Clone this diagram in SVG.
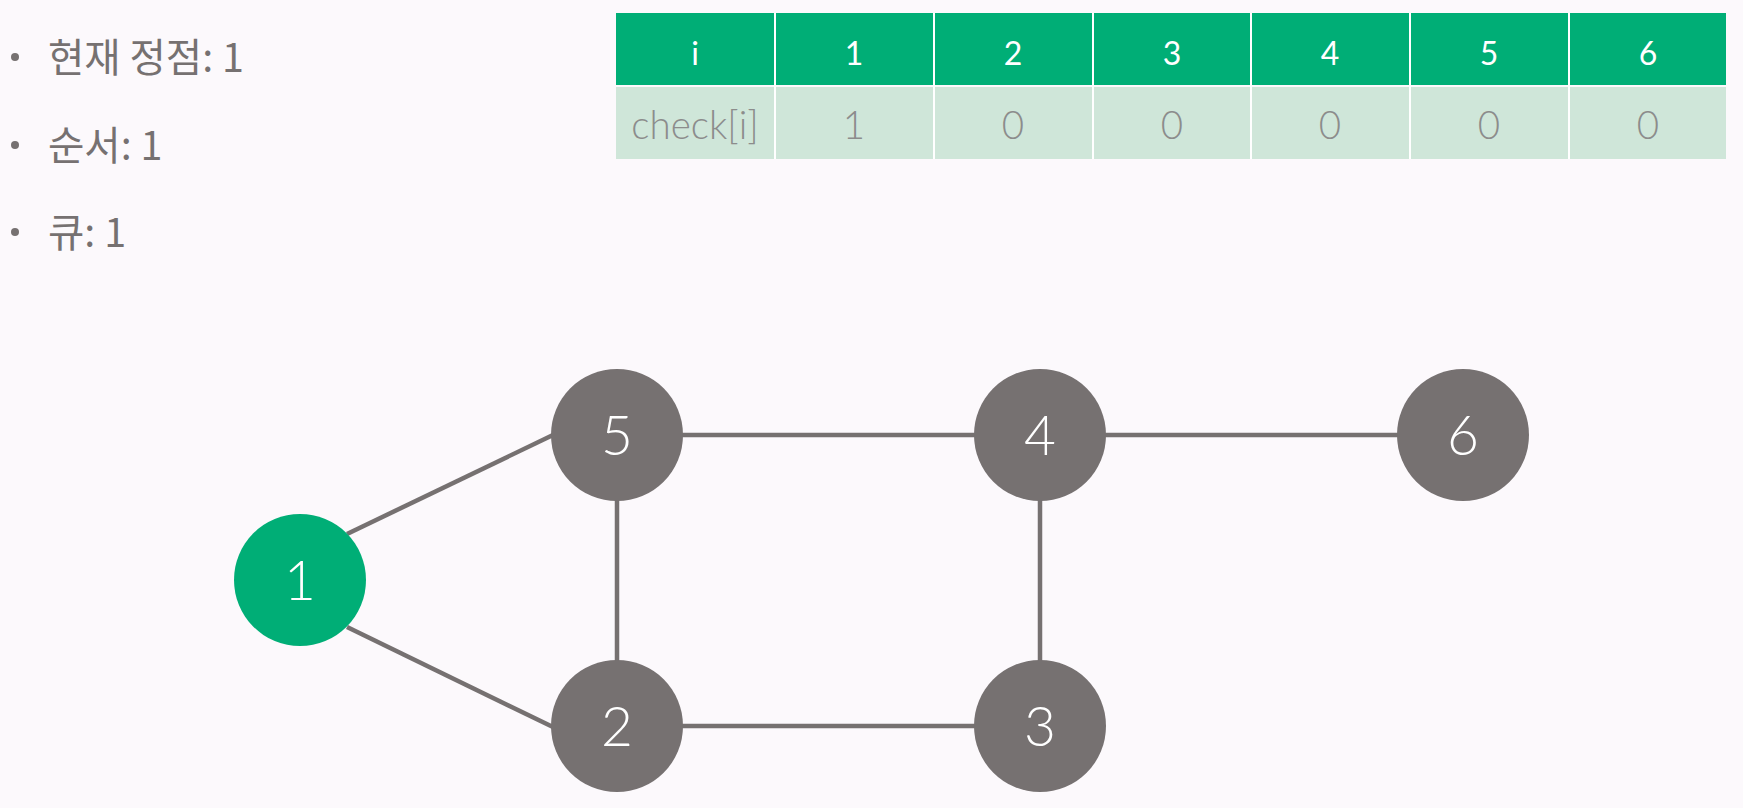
<svg xmlns="http://www.w3.org/2000/svg" width="1743" height="808" viewBox="0 0 1743 808">
<style>
.bg{fill:#fcf9fc}
.info{font-family:"Noto Sans CJK KR","Noto Sans",sans-serif;font-size:39.5px;fill:#767171}
.bul{fill:#767171}
.hd{fill:#00ae76}
.bd{fill:#cfe6d9}
.grid{stroke:#ffffff;stroke-width:2}
.ht{font-family:Lato,"Open Sans",sans-serif;font-weight:400;font-size:32px;fill:#ffffff;text-anchor:middle}
.bt{font-family:Lato,"Open Sans",sans-serif;font-weight:300;font-size:38.5px;fill:#8c8c8c;text-anchor:middle}
.edge{stroke:#767171;stroke-width:4.5;fill:none}
.node{fill:#767171}
.node.cur{fill:#00ae76}
.nt{font-family:Lato,"Open Sans",sans-serif;font-weight:300;font-size:55px;fill:#ffffff;text-anchor:middle}
</style>
<rect class="bg" x="0" y="0" width="1743" height="808"/>
<g id="info">
<circle class="bul" cx="15" cy="57" r="4"/>
<text class="info" x="48" y="72">현재 정점: 1</text>
<circle class="bul" cx="15" cy="145" r="4"/>
<text class="info" x="48" y="160">순서: 1</text>
<circle class="bul" cx="15" cy="232" r="4"/>
<text class="info" x="48" y="247">큐: 1</text>
</g>
<g id="table">
<rect class="hd" x="616" y="13" width="1110" height="72"/>
<rect class="bd" x="616" y="87" width="1110" height="72"/>
<g class="grid">
<line x1="775" y1="13" x2="775" y2="159"/>
<line x1="934" y1="13" x2="934" y2="159"/>
<line x1="1093" y1="13" x2="1093" y2="159"/>
<line x1="1251" y1="13" x2="1251" y2="159"/>
<line x1="1410" y1="13" x2="1410" y2="159"/>
<line x1="1569" y1="13" x2="1569" y2="159"/>
</g>
<text class="ht" x="695" y="65">i</text>
<text class="ht" x="854" y="65">1</text>
<text class="ht" x="1013" y="65">2</text>
<text class="ht" x="1172" y="65">3</text>
<text class="ht" x="1330" y="65">4</text>
<text class="ht" x="1489" y="65">5</text>
<text class="ht" x="1648" y="65">6</text>
<text class="bt" x="695" y="139">check[i]</text>
<text class="bt" x="854" y="139">1</text>
<text class="bt" x="1013" y="139">0</text>
<text class="bt" x="1172" y="139">0</text>
<text class="bt" x="1330" y="139">0</text>
<text class="bt" x="1489" y="139">0</text>
<text class="bt" x="1648" y="139">0</text>
</g>
<g id="connectors">
<line class="edge" x1="347" y1="534" x2="553" y2="435"/>
<line class="edge" x1="347" y1="627" x2="553" y2="727"/>
<line class="edge" x1="617" y1="435" x2="617" y2="726"/>
<line class="edge" x1="617" y1="435" x2="1040" y2="435"/>
<line class="edge" x1="1040" y1="435" x2="1463" y2="435"/>
<line class="edge" x1="1040" y1="435" x2="1040" y2="726"/>
<line class="edge" x1="617" y1="726" x2="1040" y2="726"/>
</g>
<g id="node1"><circle class="node cur" cx="300" cy="580" r="66"/><text class="nt" x="300" y="600">1</text></g>
<g id="node5"><circle class="node" cx="617" cy="435" r="66"/><text class="nt" x="617" y="455">5</text></g>
<g id="node2"><circle class="node" cx="617" cy="726" r="66"/><text class="nt" x="617" y="746">2</text></g>
<g id="node4"><circle class="node" cx="1040" cy="435" r="66"/><text class="nt" x="1040" y="455">4</text></g>
<g id="node3"><circle class="node" cx="1040" cy="726" r="66"/><text class="nt" x="1040" y="746">3</text></g>
<g id="node6"><circle class="node" cx="1463" cy="435" r="66"/><text class="nt" x="1463" y="455">6</text></g>
</svg>
